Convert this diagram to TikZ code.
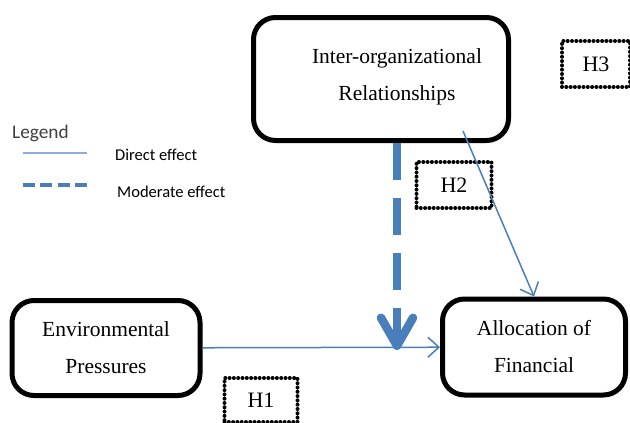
\documentclass[tikz,border=0pt]{standalone}
\usepackage{fontspec}
\setmainfont{Liberation Serif}
\newfontfamily\legendfont{Carlito}
\usepackage{tikz}
\usetikzlibrary{arrows.meta,calc}
\definecolor{effblue}{HTML}{4A7EBB}
\definecolor{legblue}{HTML}{8FAADC}
\definecolor{leggray}{HTML}{404040}

\begin{document}
\begin{tikzpicture}[x=1pt,y=-1pt,
  varbox/.style={draw,line width=5pt,rounded corners=22pt,align=center,font=\fontsize{21.5}{37}\selectfont},
  hypbox/.style={draw,line width=4pt,dash pattern=on 0pt off 4.3pt,line cap=round,minimum width=70pt,minimum height=46pt,font=\fontsize{22}{24}\selectfont},
  direct/.style={effblue,line width=1.5pt,-{Straight Barb[length=11pt,width=20pt]}},
  moderate/.style={effblue,line width=8.5pt,dash pattern=on 37pt off 18pt,-{Straight Barb[length=28pt,width=32pt,round]}},
  legtext/.style={anchor=west,inner sep=0pt,font=\legendfont\fontsize{16.5}{19}\selectfont}]
  \useasboundingbox (0,0) rectangle (630,423);
  % variables
  \node[varbox,minimum width=255pt,minimum height=123pt] (inter) at (381,79) {};
  \node[align=center,font=\fontsize{21.5}{37}\selectfont] (intertxt) at ($(inter)+(16,-2)$) {Inter-organizational\\Relationships};
  \node[varbox,minimum width=188pt,minimum height=95pt] (env) at (106,348) {Environmental\\Pressures};
  \node[varbox,minimum width=183pt,minimum height=96pt] (alloc) at (534,347) {Allocation of\\Financial};
  % hypotheses
  \node[hypbox,minimum width=68pt] (h3) at (596,64) {H3};
  \node[hypbox,minimum width=75pt] (h2) at (454,185) {H2};
  \node[hypbox,minimum width=73pt,minimum height=44pt] (h1) at (261,400) {H1};
  % effects
  \coordinate (dstart) at (463,131);
  \coordinate (mod) at (397,350);
  \draw[direct] (env) -- (alloc);
  \draw[direct] (dstart) -- (alloc.north);
  \draw[moderate] (inter.south -| mod) -- (mod);
  % legend
  \node[anchor=west,inner sep=0pt,text=leggray,font=\legendfont\fontsize{19.3}{22}\selectfont] (leg) at (12,133) {Legend};
  \coordinate (la) at (23,153); \coordinate (lb) at (87,153);
  \coordinate (lc) at (23,185); \coordinate (ld) at (87,185);
  \draw[legblue,line width=1.5pt] (la) -- (lb);
  \draw[effblue,line width=4.5pt,dash pattern=on 12pt off 5.3pt] (lc) -- (ld);
  \node[legtext] (ldir) at (115,155) {Direct effect};
  \node[legtext] (lmod) at (117,192) {Moderate effect};
\end{tikzpicture}
\end{document}
